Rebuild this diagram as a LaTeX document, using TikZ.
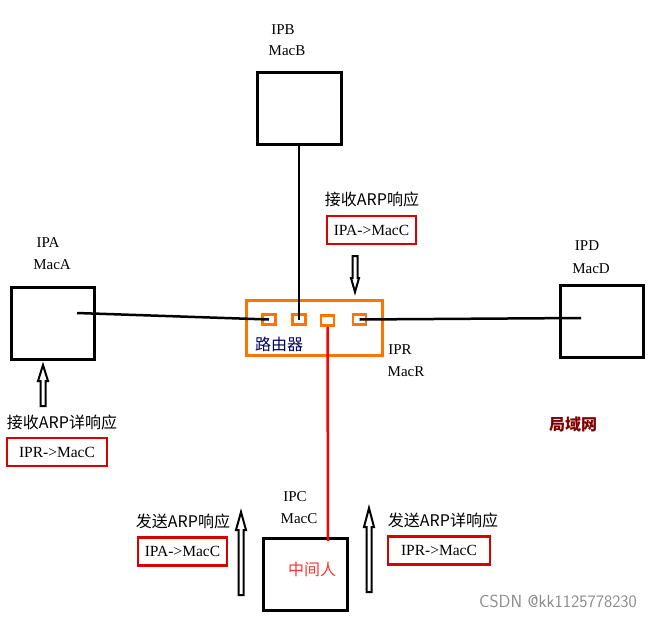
\documentclass[tikz,border=0pt]{standalone}
\usepackage{fontspec}
\setmainfont{Liberation Serif}
\newfontfamily\cjk{Noto Sans CJK SC}
\begin{document}
\begin{tikzpicture}[x=1pt,y=-1pt,
  host/.style={draw=black,line width=2.8pt},
  lbl/.style={font=\fontsize{15}{17}\selectfont,inner sep=0pt,anchor=center},
  cjklbl/.style={font=\cjk\fontsize{16}{18}\selectfont,inner sep=0pt,anchor=center},
  redbox/.style={draw=red!85!black,line width=2.8pt,font=\fontsize{15.5}{17}\selectfont,inner sep=0pt,anchor=center},
  link/.style={draw=black,line width=2.5pt},
  port/.style={draw=orange!90!red,line width=2.5pt,fill=white,inner sep=0pt,minimum width=13pt,minimum height=10pt},
  hollow/.style={draw=black,line width=2pt,fill=white,line join=miter}
]
\useasboundingbox (0,0) rectangle (669,618);
\fill[white] (0,0) rectangle (669,618);

% hosts
\node[host,minimum width=84pt,minimum height=72pt,anchor=north west] (B) at (256,71) {};
\node[host,minimum width=83pt,minimum height=72pt,anchor=north west] (A) at (10,286) {};
\node[host,minimum width=83pt,minimum height=72pt,anchor=north west] (D) at (559,284) {};
\node[host,minimum width=84pt,minimum height=72pt,anchor=north west] (C) at (262,537) {};

% labels
\node[lbl] (ipb) at (283,30) {IPB};
\node[lbl] (macb) at (287,51) {MacB};
\node[lbl] (ipa) at (48,243) {IPA};
\node[lbl] (maca) at (52,265) {MacA};
\node[lbl] (ipd) at (587,246) {IPD};
\node[lbl] (macd) at (591,269) {MacD};
\node[lbl] (ipc) at (295,497) {IPC};
\node[lbl] (macc) at (299,519) {MacC};
\node[lbl] (ipr) at (400,350) {IPR};
\node[lbl] (macr) at (406,372) {MacR};

% router
\node[draw=orange!90!red,line width=2.8pt,minimum width=136pt,minimum height=55pt,anchor=north west] (R) at (245,299) {};
\node[port] (p1) at (269,319.5) {};
\node[port] (p2) at (299,319.5) {};
\node[port] (p3) at (327.5,320.5) {};
\node[port] (p4) at (359.5,319.5) {};
\node[font=\cjk\fontsize{16}{18}\selectfont,text=blue!40!black,inner sep=0pt] (rt) at (279,344) {路由器};

% links
\coordinate (Ain) at (77,313);
\coordinate (Din) at (581,318);
\coordinate (Cin) at (328,541);
\draw[link] (Ain) -- (p1.center);
\draw[link] (p4.center) -- (Din);
\draw[link] (B.south -| p2.center) -- (p2.center);
\draw[draw=red,line width=2.5pt] (p3.south) -- (Cin);

% texts and red boxes
\node[cjklbl] (t1) at (372,199) {接收ARP响应};
\node[redbox,minimum width=89pt,minimum height=28pt] (b1) at (371.5,230) {IPA->MacC};
\node[cjklbl] (t2) at (62,422) {接收ARP详响应};
\node[redbox,minimum width=100pt,minimum height=28pt] (b2) at (57,452) {IPR->MacC};
\node[cjklbl] (t3) at (183,521) {发送ARP响应};
\node[redbox,minimum width=89pt,minimum height=28pt] (b3) at (182.5,551.5) {IPA->MacC};
\node[cjklbl] (t4) at (443,520) {发送ARP详响应};
\node[redbox,minimum width=102pt,minimum height=28pt] (b4) at (439,550.5) {IPR->MacC};
\node[font=\cjk\fontsize{16}{18}\selectfont,text=red!80,inner sep=0pt] (mid) at (312,569) {中间人};
\node[font=\cjk\bfseries\fontsize{16}{18}\selectfont,text=red!50!black,inner sep=0pt] (lan) at (573,424) {局域网};
\node[font=\sffamily\fontsize{17.5}{19}\selectfont,text=black!45,inner sep=0pt] (wm) at (558,601) {CSDN @kk1125778230};

% hollow arrows
\draw[hollow] (43,365) -- (48,381) -- (45.5,381) -- (45.5,406) -- (40.5,406) -- (40.5,381) -- (38,381) -- cycle;
\draw[hollow] (241,512) -- (246,530) -- (243.5,530) -- (243.5,595) -- (238.5,595) -- (238.5,530) -- (236,530) -- cycle;
\draw[hollow] (369,508) -- (374,527) -- (371.5,527) -- (371.5,592) -- (366.5,592) -- (366.5,527) -- (364,527) -- cycle;
\draw[hollow] (355,292) -- (359,278) -- (357.5,278) -- (357.5,256) -- (352.5,256) -- (352.5,278) -- (351,278) -- cycle;
\end{tikzpicture}
\end{document}
